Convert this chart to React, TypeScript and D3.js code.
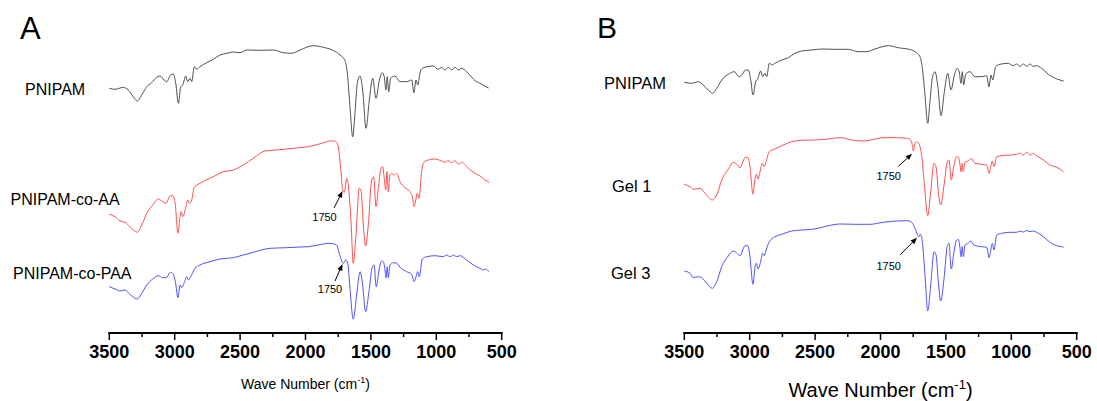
import React from "react";
import * as d3 from "d3";

type Pt = [number, number];

// Wavenumber (cm-1), relative transmittance (arbitrary units, offset per trace)
const pnipamA: Pt[] = [[3500,244.7],[3456,243.7],[3393,245.7],[3355,243],[3317,236.3],[3286,232],[3252,238],[3214,246.3],[3176,250.3],[3138,255.7],[3112,257],[3082,253],[3061,251.3],[3031,258],[3011,259],[2992,249.7],[2972,229.7],[2954,246.3],[2939,248],[2929,252],[2916,257],[2901,251.3],[2883,254.7],[2870,251.3],[2850,266.3],[2832,263.7],[2807,266.3],[2755,270.3],[2705,273.7],[2654,278],[2602,279.7],[2552,281],[2501,280.3],[2450,283],[2348,282.7],[2246,283],[2170,280.3],[2106,279.7],[2042,283],[1940,287.3],[1864,285.7],[1762,280.7],[1736,278],[1698,272.3],[1680,259.7],[1660,226.3],[1639,196.3],[1622,219.7],[1604,249.7],[1583,257],[1563,243],[1537,204.7],[1512,233],[1486,254.7],[1461,234.7],[1435,253],[1413,260.3],[1398,256.3],[1385,243],[1375,256.3],[1364,241.3],[1349,254.7],[1316,257],[1278,251.3],[1226,251.3],[1188,253],[1171,240.3],[1155,253],[1142,248],[1119,263],[1087,265.7],[1023,267],[985,263.7],[959,265.7],[933,263],[908,265.7],[882,263],[857,265.7],[832,263],[806,264.7],[768,261.3],[729,255.7],[704,252.3],[666,249.7],[630,247],[600,245]];

const coAA: Pt[] = [[3500,118.7],[3456,116.3],[3418,112],[3380,110.7],[3342,106.3],[3286,100.7],[3252,108],[3214,119.7],[3168,128],[3125,134],[3099,132],[3066,129.7],[3036,137],[3015,137.3],[2998,131.3],[2975,99.7],[2959,116.3],[2950,121.3],[2939,116.3],[2914,126.3],[2901,133],[2888,129.7],[2870,133],[2850,145.7],[2807,149.7],[2705,156.3],[2628,161.3],[2552,163],[2476,168],[2399,174.7],[2310,182],[2220,183],[2144,184],[2042,185.3],[1979,186.3],[1876,189.7],[1800,192.3],[1762,190.7],[1744,181.3],[1729,161.3],[1716,143],[1703,140.7],[1685,154.7],[1673,148],[1652,111.3],[1635,69.7],[1614,98],[1589,144.7],[1575,142],[1558,108],[1540,87],[1520,108],[1494,153],[1479,156.3],[1461,126.3],[1443,144.7],[1423,164.7],[1410,166.3],[1398,154.7],[1387,143],[1377,161.3],[1367,141.3],[1354,158],[1341,159.7],[1321,158],[1303,159.7],[1278,151.3],[1239,145.3],[1201,141.3],[1183,136.3],[1170,126.3],[1157,133],[1145,139.7],[1132,134.7],[1112,161.3],[1092,171.3],[1061,173],[1010,174],[959,172],[933,170.7],[908,172.3],[882,170.3],[857,172.3],[832,168.7],[806,170.7],[755,164.7],[704,159.7],[666,157],[630,153],[610,152],[600,150]];

const coPAA: Pt[] = [[3500,46.3],[3456,44],[3418,42],[3380,43],[3342,38.7],[3286,34],[3252,39.7],[3214,48],[3168,54],[3125,57.3],[3092,55.3],[3066,55.3],[3031,60.7],[3011,58.7],[2995,51.3],[2975,35.3],[2959,48],[2947,45.3],[2929,49.7],[2908,56.3],[2896,53],[2878,56.3],[2845,64.7],[2807,68],[2730,71.3],[2654,74],[2552,75.3],[2476,78],[2399,80.7],[2271,84.7],[2144,85.3],[2042,86],[1979,86.3],[1876,88.7],[1812,89.7],[1762,88],[1742,79.7],[1723,72],[1711,69.7],[1693,73],[1677,69.7],[1660,44.7],[1635,13.7],[1609,38],[1583,61.3],[1566,51.3],[1540,21.3],[1515,41.3],[1489,66.3],[1476,68],[1459,46.3],[1438,63],[1418,72],[1405,71.3],[1392,63],[1385,55.3],[1375,66.3],[1367,55.3],[1354,68],[1329,70.3],[1303,69.7],[1270,64.7],[1226,61.3],[1188,58.7],[1170,51.3],[1155,56.3],[1142,61.3],[1130,56.3],[1107,74],[1073,76.3],[1010,77.3],[946,76.3],[920,78],[895,76.3],[870,78],[844,76.3],[819,77.3],[768,73],[717,68],[666,64.7],[640,63],[620,64],[600,61.3]];

const pnipamB: Pt[] = [[3500,250.7],[3443,249.7],[3393,251.3],[3355,248],[3317,243],[3286,239.7],[3252,244.7],[3214,253],[3164,258.7],[3118,261.3],[3082,256.3],[3061,258],[3031,263],[3011,263],[2992,253],[2975,238],[2954,251.3],[2939,254],[2916,262],[2901,256.3],[2883,259.7],[2870,256.3],[2850,269.7],[2827,268],[2807,269.7],[2755,273],[2705,275.3],[2654,279.7],[2602,282],[2526,283],[2450,284],[2348,283.7],[2246,283.7],[2170,281.3],[2106,281.3],[2042,284],[1940,287.3],[1864,285.3],[1762,283],[1736,281.3],[1698,276.3],[1680,264.7],[1660,238],[1639,209.7],[1622,231.3],[1604,254.7],[1583,261.3],[1563,248],[1537,217.3],[1512,241.3],[1486,259.7],[1461,243],[1435,258],[1413,264.7],[1398,261],[1385,249.7],[1375,261.3],[1364,248],[1349,258.7],[1316,261.3],[1278,256.3],[1226,256.3],[1188,257.3],[1171,246.3],[1155,258],[1142,253],[1119,266.3],[1087,268.7],[1023,269.7],[985,267.3],[959,269],[933,266.7],[908,269],[882,266.7],[857,269],[832,266.7],[806,267.3],[768,264.7],[717,258.7],[679,255.7],[628,253],[600,252]];

const gel1: Pt[] = [[3500,148.7],[3456,146.3],[3431,143.7],[3380,144.7],[3342,139.7],[3286,133],[3252,138],[3214,153],[3168,163],[3125,170.7],[3099,168.7],[3074,165.3],[3036,175.3],[3015,175.7],[2998,166.3],[2975,138.7],[2959,154.7],[2949,158.7],[2939,154],[2920,162],[2904,169.7],[2888,166.3],[2875,171.3],[2850,181.3],[2807,184],[2755,187.3],[2679,191.3],[2602,192.7],[2501,193],[2399,194],[2310,195.3],[2220,193],[2131,192],[2042,194],[1979,195.3],[1876,195.3],[1800,194.7],[1769,193],[1757,188],[1749,182],[1738,189.7],[1723,191.3],[1698,186.3],[1680,171.3],[1660,141.3],[1639,117.3],[1616,141.3],[1591,169.7],[1575,166],[1558,141.3],[1540,128],[1514,148],[1489,171.3],[1476,173],[1459,153],[1438,168],[1418,176.3],[1405,176],[1392,168],[1385,161.3],[1375,169.7],[1367,161.3],[1354,170.7],[1329,172],[1308,174.7],[1278,169.7],[1226,168.7],[1188,168],[1170,159.7],[1157,166.3],[1145,172],[1132,166.3],[1112,176.3],[1073,177.3],[1010,178],[959,178.7],[933,180],[908,178],[882,180.7],[857,178],[832,179.5],[806,177.3],[755,173],[704,168],[666,166.3],[628,164],[600,161]];

const gel3: Pt[] = [[3500,62],[3456,59.7],[3431,55.3],[3393,56.3],[3367,55.3],[3329,49.7],[3286,44.7],[3252,51.3],[3214,66.3],[3168,76.3],[3125,82],[3099,80],[3074,77.3],[3036,87.3],[3015,87.3],[2998,76.3],[2975,48.7],[2959,66.3],[2949,69.7],[2936,64],[2915,72],[2901,79.7],[2888,77.3],[2875,83],[2850,91.3],[2807,96.3],[2755,98.7],[2679,102],[2602,103],[2501,104],[2399,107.3],[2310,109],[2195,108.7],[2080,108.7],[1979,110.7],[1876,112],[1800,112.3],[1762,110.7],[1736,104.7],[1719,98.7],[1706,96.3],[1698,98.7],[1685,95.3],[1673,81.3],[1655,48],[1639,22],[1616,48],[1591,81.3],[1575,78],[1558,51.3],[1540,32],[1514,54.7],[1489,87.3],[1476,89.7],[1459,64],[1438,81.3],[1418,93],[1405,93.5],[1392,84.7],[1385,76.3],[1375,86.3],[1367,76.3],[1354,88],[1329,89.7],[1311,92],[1285,88],[1226,86.3],[1188,85.7],[1170,75.3],[1157,83],[1145,89.7],[1132,83],[1112,98],[1073,99.7],[1010,100.7],[959,100.7],[933,102],[908,101],[882,102.5],[857,101.3],[832,102],[806,100.7],[755,96.3],[704,90.7],[653,87.3],[600,86]];

const majorTicks = [3500, 3000, 2500, 2000, 1500, 1000, 500];
const minorTicks = [3250, 2750, 2250, 1750, 1250, 750];

const namesA = ["PNIPAM", "PNIPAM-co-AA", "PNIPAM-co-PAA"];
const namesB = ["PNIPAM", "Gel 1", "Gel 3"];
const colors = ["#505050", "#ff5050", "#5050ff"];

// annotation anchors on the curves: [wavenumber, value]
const annotA: Pt[] = [[1717, 142], [1717, 69]];
const annotB: Pt[] = [[1759, 179.2], [1721, 95.2]];
const annotLabel = "1750";

const FONT = "Arial, 'Liberation Sans', Helvetica, sans-serif";

const yScale = d3.scaleLinear().domain([0, 300]).range([333, 33]);

type PanelProps = {
  letter: string;
  letterPos: [number, number, number];
  xRange: [number, number];
  series: Pt[][];
  names: string[];
  namePos: [number, number][];
  nameSize: number;
  annots: Pt[];
  annotStyle: { tail: [number, number]; text: [number, number] }[];
  titleSize: number;
  titleY: number;
};

function Arrow({ x1, y1, x2, y2 }: { x1: number; y1: number; x2: number; y2: number }) {
  const ang = Math.atan2(y2 - y1, x2 - x1);
  const L = 6.5, W = 2.6;
  const bx = x2 - L * Math.cos(ang), by = y2 - L * Math.sin(ang);
  const px = -Math.sin(ang) * W, py = Math.cos(ang) * W;
  return (
    <g>
      <line x1={x1} y1={y1} x2={bx} y2={by} stroke="#000" strokeWidth={1} />
      <polygon points={`${x2},${y2} ${bx + px},${by + py} ${bx - px},${by - py}`} fill="#000" />
    </g>
  );
}

function Panel(p: PanelProps) {
  const x = d3.scaleLinear().domain([3500, 500]).range(p.xRange);
  const line = d3
    .line<Pt>()
    .x((d) => x(d[0]))
    .y((d) => yScale(d[1]))
    .curve(d3.curveMonotoneX);
  const axisY = yScale(0);
  const cx = (p.xRange[0] + p.xRange[1]) / 2;
  return (
    <g>
      <text x={p.letterPos[0]} y={p.letterPos[1]} fontSize={p.letterPos[2]} fontFamily={FONT}>
        {p.letter}
      </text>
      {p.series.map((s, i) => (
        <path key={i} d={line(s) || ""} fill="none" stroke={colors[i]} strokeWidth={1} />
      ))}
      {p.names.map((n, i) => (
        <text key={n + i} x={p.namePos[i][0]} y={p.namePos[i][1]} fontSize={p.nameSize} fontFamily={FONT}>
          {n}
        </text>
      ))}
      {p.annots.map((a, i) => {
        const tx = x(a[0]);
        const ty = yScale(a[1]);
        const st = p.annotStyle[i];
        return (
          <g key={"a" + i}>
            <Arrow x1={tx + st.tail[0]} y1={ty + st.tail[1]} x2={tx} y2={ty} />
            <text x={tx + st.text[0]} y={ty + st.text[1]} fontSize={11} fontFamily={FONT} textAnchor="middle">
              {annotLabel}
            </text>
          </g>
        );
      })}
      <line x1={p.xRange[0] - 1} x2={p.xRange[1] + 1} y1={axisY} y2={axisY} stroke="#000" strokeWidth={2} />
      {majorTicks.map((t) => (
        <g key={"M" + t}>
          <line x1={x(t)} x2={x(t)} y1={axisY} y2={axisY + 7} stroke="#000" strokeWidth={1.5} />
          <text x={x(t)} y={358} fontSize={18} fontWeight="bold" fontFamily={FONT} textAnchor="middle">
            {t}
          </text>
        </g>
      ))}
      {minorTicks.map((t) => (
        <line key={"m" + t} x1={x(t)} x2={x(t)} y1={axisY} y2={axisY + 4} stroke="#000" strokeWidth={1.5} />
      ))}
      <text x={cx} y={p.titleY} fontSize={p.titleSize} fontFamily={FONT} textAnchor="middle">
        Wave Number (cm
        <tspan fontSize={p.titleSize * 0.65} dy={-p.titleSize * 0.4}>-1</tspan>
        <tspan dy={p.titleSize * 0.4}>)</tspan>
      </text>
    </g>
  );
}

export default function App() {
  return (
    <svg width={1097} height={401} style={{ position: "absolute", left: 0, top: 0, background: "#fff" }}>
      <rect width={1097} height={401} fill="#fff" />
      <Panel
        letter="A"
        letterPos={[20, 39, 31]}
        xRange={[109.3, 501.7]}
        series={[pnipamA, coAA, coPAA]}
        names={namesA}
        namePos={[[25, 95], [10.5, 205], [13, 279]]}
        nameSize={16}
        annots={annotA}
        annotStyle={[
          { tail: [-8.5, 17], text: [-18, 30] },
          { tail: [-7.5, 17], text: [-12.5, 29.3] },
        ]}
        titleSize={14}
        titleY={389}
      />
      <Panel
        letter="B"
        letterPos={[597, 37.5, 30]}
        xRange={[684.3, 1076.7]}
        series={[pnipamB, gel1, gel3]}
        names={namesB}
        namePos={[[604, 89], [612, 191.5], [611, 279]]}
        nameSize={16.5}
        annots={annotB}
        annotStyle={[
          { tail: [-13.7, 12.6], text: [-23.3, 26.2] },
          { tail: [-16.7, 16.8], text: [-28.3, 32.2] },
        ]}
        titleSize={20}
        titleY={397}
      />
    </svg>
  );
}
